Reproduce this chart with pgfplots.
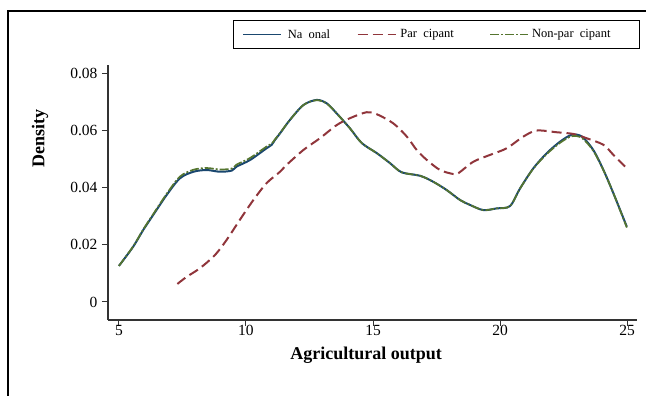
\documentclass[border=0pt]{standalone}
\usepackage{fontspec}
\setmainfont{Liberation Serif}
\usepackage{pgfplots}
\pgfplotsset{compat=1.18}
\definecolor{stnavy}{RGB}{26,71,111}
\definecolor{stmaroon}{RGB}{144,53,59}
\definecolor{stgreen}{RGB}{85,117,47}
\begin{document}
\begin{tikzpicture}[x=1pt,y=1pt]
\path[use as bounding box] (0,0) rectangle (646,396);
\draw[line width=1.3pt] (8,-1) -- (8,385) -- (647,385);
\begin{axis}[
  at={(108pt,76pt)}, anchor=south west,
  scale only axis, width=529pt, height=255pt,
  xmin=4.57, xmax=25.39, ymin=-0.0063, ymax=0.0828,
  scaled y ticks=false, scaled x ticks=false,
  axis x line=bottom, axis y line=left,
  axis line style={-, line width=1.2pt, black!80},
  xtick={5,10,15,20,25}, xticklabels={5,10,15,20,25},
  ytick={0,0.02,0.04,0.06,0.08}, yticklabels={0,0.02,0.04,0.06,0.08},
  tick align=outside, major tick length=6pt,
  tick style={line width=1pt, black!80},
  ticklabel style={font=\fontsize{15.5}{16}\selectfont},
  x tick label style={yshift=4pt},
  y tick label style={xshift=-1pt},
  xlabel={\textbf{Agricultural output}},
  ylabel={\textbf{Density}},
  label style={font=\fontsize{18}{18}\selectfont},
  xlabel style={at={(axis description cs:0.488,-0.137)}, anchor=center},
  ylabel style={at={(axis description cs:-0.1285,0.71)}, anchor=center, rotate=0},
  legend columns=3,
  legend style={at={(axis description cs:0.236,1.063)}, anchor=south west,
    draw=black, line width=0.8pt, font=\fontsize{12.5}{13}\selectfont,
    nodes={inner xsep=0pt, inner ysep=2pt}, column sep=0pt,
    inner xsep=9pt, inner ysep=7pt},
  legend image code/.code={\draw[#1, line width=1.6pt] (0pt,0pt) -- (38pt,0pt);},
  clip=false,
]
\addplot[stnavy, line width=2pt, smooth] coordinates {
(5.00,0.0126)(5.56,0.0193)(5.96,0.0252)(6.35,0.0304)(6.88,0.0374)(7.40,0.0432)
(7.93,0.0455)(8.45,0.0461)(8.98,0.0455)(9.44,0.0459)(9.63,0.0473)(10.16,0.0496)
(10.81,0.0537)(11.01,0.0549)(11.14,0.0566)(11.34,0.0589)(11.73,0.0636)(12.26,0.0688)
(12.78,0.0706)(13.18,0.0694)(13.57,0.0659)(14.09,0.0607)(14.56,0.0555)(15.15,0.0520)
(15.67,0.0485)(16.13,0.0453)(16.85,0.0441)(17.37,0.0420)(17.90,0.0391)(18.43,0.0356)
(18.82,0.0339)(19.34,0.0321)(19.87,0.0327)(20.39,0.0335)(20.79,0.0397)(21.31,0.0467)
(21.84,0.0520)(22.36,0.0560)(22.82,0.0584)(23.22,0.0578)(23.67,0.0531)(24.07,0.0461)
(24.46,0.0380)(24.99,0.0263)};
\addlegendentry{\makebox[75pt][l]{\hspace{6pt}Na\hspace{0.5em}onal}}
\addplot[stmaroon, line width=2pt, smooth, dash pattern=on 10pt off 5pt] coordinates {
(7.30,0.0063)(7.67,0.0088)(8.19,0.0118)(8.78,0.0164)(9.24,0.0217)(9.76,0.0287)
(10.29,0.0356)(10.81,0.0415)(11.34,0.0455)(11.60,0.0479)(12.26,0.0531)(12.91,0.0572)
(13.57,0.0618)(14.09,0.0642)(14.75,0.0663)(15.15,0.0656)(15.80,0.0624)(16.33,0.0578)
(16.72,0.0531)(17.12,0.0496)(17.64,0.0461)(18.16,0.0447)(18.36,0.0450)(18.95,0.0490)
(19.61,0.0514)(20.26,0.0537)(20.92,0.0578)(21.44,0.0599)(22.23,0.0593)(22.89,0.0587)
(23.41,0.0572)(24.07,0.0549)(24.46,0.0514)(24.92,0.0473)};
\addlegendentry{\makebox[93pt][l]{\hspace{4pt}Par\hspace{0.5em}cipant}}
\addplot[stgreen, line width=1.7pt, smooth, dash pattern=on 9pt off 2pt on 2pt off 2pt] coordinates {
(5.00,0.0126)(5.56,0.0194)(5.96,0.0254)(6.35,0.0307)(6.88,0.0378)(7.40,0.0438)
(7.93,0.0462)(8.45,0.0468)(8.98,0.0463)(9.44,0.0466)(9.63,0.0480)(10.16,0.0503)
(10.81,0.0543)(11.01,0.0553)(11.14,0.0568)(11.34,0.0590)(11.73,0.0636)(12.26,0.0688)
(12.78,0.0705)(13.18,0.0693)(13.57,0.0659)(14.09,0.0607)(14.56,0.0555)(15.15,0.0520)
(15.67,0.0485)(16.13,0.0453)(16.85,0.0441)(17.37,0.0420)(17.90,0.0391)(18.43,0.0356)
(18.82,0.0339)(19.34,0.0321)(19.87,0.0327)(20.39,0.0335)(20.79,0.0397)(21.31,0.0466)
(21.84,0.0517)(22.36,0.0556)(22.82,0.0579)(23.22,0.0573)(23.67,0.0528)(24.07,0.0460)
(24.46,0.0380)(24.99,0.0260)};
\addlegendentry{\makebox[101pt][l]{\hspace{3pt}Non-par\hspace{0.5em}cipant}}
\end{axis}
\end{tikzpicture}
\end{document}
